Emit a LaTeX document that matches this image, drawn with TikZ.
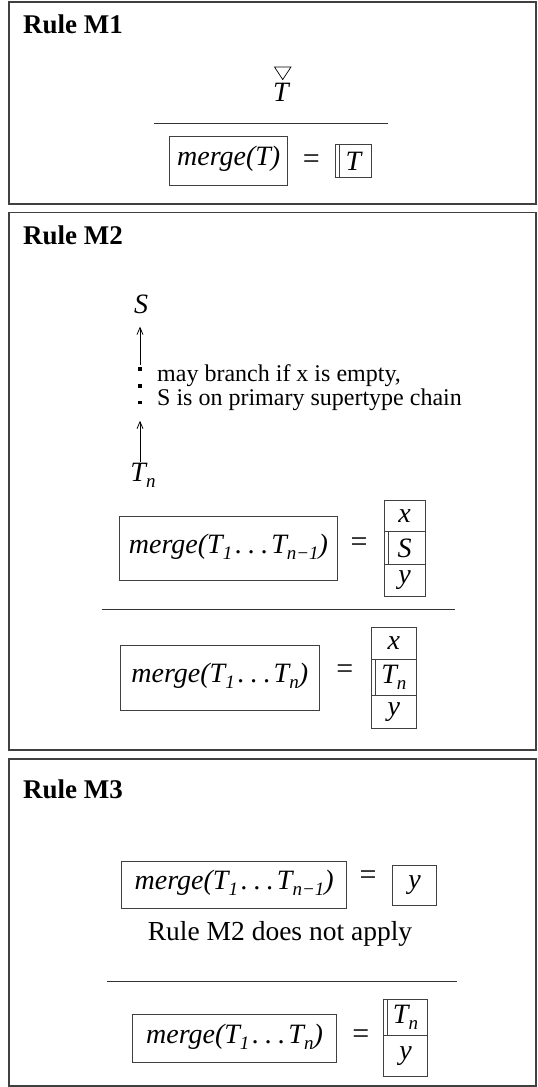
\documentclass[tikz,border=0pt]{standalone}
\usepackage{fontspec}
\setmainfont{Liberation Serif}
\usetikzlibrary{calc, positioning, arrows.meta}

\newcommand{\mtxt}{\fontsize{28}{30}\selectfont\itshape}
\newcommand{\lowsub}[1]{\raisebox{-6pt}{\fontsize{19}{19}\selectfont #1}}
\newcommand{\spdots}{\hspace{3pt}.\hspace{6pt}.\hspace{6pt}.\hspace{3pt}}

\tikzset{
 panel/.style={draw=black!75, line width=1.3pt},
 title/.style={font=\fontsize{27}{30}\selectfont\bfseries, inner sep=0, anchor=base west},
 mtext/.style={font=\mtxt, inner sep=0},
 mergebox/.style={draw=black!75, line width=0.9pt, font=\mtxt, inner sep=0, outer sep=0, text depth=10pt},
 cellbox/.style={draw=black!75, line width=0.9pt, font=\mtxt, inner sep=0, outer sep=0},
 innerbar/.style={black!75, line width=0.9pt},
 eqsign/.style={font=\fontsize{30}{30}\selectfont, inner sep=0, yshift=-2.5pt},
 fracline/.style={black!80, line width=0.9pt},
 note/.style={font=\fontsize{24}{24}\selectfont, inner sep=0, anchor=base west},
 remark/.style={font=\fontsize{27.5}{30}\selectfont, inner sep=0, anchor=base},
 chain/.style={-{Straight Barb[length=7pt,width=6pt]}, line width=0.8pt},
}

\begin{document}
\begin{tikzpicture}[x=1pt, y=-1pt]
\useasboundingbox (0,0) rectangle (538,1087);
%M1
\draw[panel] (9,2) rectangle (536,204);
\node[title] (r1) at (23,33) {Rule M1};
\node[mtext, anchor=base] (T0) at (281,101) {T};
\draw[line width=0.7pt] ($(T0.north)+(-6.5,-15.5)$) -- ($(T0.north)+(10,-15.5)$) -- ($(T0.north)+(1.7,-2.9)$) -- cycle;
\draw[fracline] (154.4,123.5) -- (387.8,123.5);
\node[mergebox, minimum width=117.7, minimum height=49.7] (m1) at (228.7,160.9) {merge(T)};
\node[eqsign] (e1) at (311.3,159.6) {=};
\node[cellbox, minimum width=36, minimum height=32.6] (t1) at (353.3,161.1) {T};
\draw[innerbar] ([xshift=4.4pt]t1.north west) -- ([xshift=4.4pt]t1.south west);

%M2
\draw[panel] (9,212.5) rectangle (536,750);
\node[title] (r2) at (23,244) {Rule M2};
\node[mtext] (S) at (141,304) {S};
\node[mtext, anchor=base] (Tn) at (143,481) {T\lowsub{n}};
\coordinate (dtop) at (140,365);
\coordinate (dlow) at (140,420.7);
\foreach \y in {369,386,402.7} \fill (140,\y) +(-1.6,-1.6) rectangle +(1.6,1.6);
\draw[chain, shorten >=13pt] (dtop) -- (dtop |- S.south);
\draw[chain] (dlow |- Tn.north) -- (dlow);
\node[note] (why1) at (157,381) {may branch if x is empty,};
\node[note] (why2) at (157,405) {S is on primary supertype chain};

\node[mergebox, minimum width=218.4, minimum height=64] (m2a) at (228.5,548.7) {merge(T\lowsub{1}\spdots T\lowsub{n−1})};
\node[eqsign] (e2a) at (359.2,542.3) {=};
\node[cellbox, minimum width=40.7, minimum height=31.7] (x2a) at (404.7,515.9) {x};
\node[cellbox, minimum width=40.7, minimum height=32.6, below=0pt of x2a] (s2a) {S};
\node[cellbox, minimum width=40.7, minimum height=31.7, below=0pt of s2a] (y2a) {y};
\draw[innerbar] ([xshift=4pt]s2a.north west) -- ([xshift=4pt]s2a.south west);
\draw[fracline] (101.7,609.3) -- (455,609.3);
\node[mergebox, minimum width=198.3, minimum height=65] (m2b) at (219.8,677.5) {merge(T\lowsub{1}\spdots T\lowsub{n})};
\node[eqsign] (e2b) at (344.8,669.3) {=};
\node[cellbox, minimum width=44.3, minimum height=32] (x2b) at (393.9,643.3) {x};
\node[cellbox, minimum width=44.3, minimum height=35.7, below=0pt of x2b] (t2b) {T\lowsub{n}};
\node[cellbox, minimum width=44.3, minimum height=33.8, below=0pt of t2b] (y2b) {y};
\draw[innerbar] ([xshift=4pt]t2b.north west) -- ([xshift=4pt]t2b.south west);

%M3
\draw[panel] (9,759) rectangle (536,1086);
\node[title] (r3) at (23,798) {Rule M3};
\node[mergebox, minimum width=225, minimum height=46.6] (m3a) at (234.2,885) {merge(T\lowsub{1}\spdots T\lowsub{n−1})};
\node[eqsign] (e3a) at (368,875) {=};
\node[cellbox, minimum width=44.4, minimum height=40] (y3a) at (414.5,885) {y};
\node[remark] (nota) at (280,940) {Rule M2 does not apply};
\draw[fracline] (106.7,981) -- (456.7,981);
\node[mergebox, minimum width=204.4, minimum height=48] (m3b) at (234.5,1038.3) {merge(T\lowsub{1}\spdots T\lowsub{n})};
\node[eqsign] (e3b) at (360.8,1034) {=};
\node[cellbox, minimum width=44.4, minimum height=36.4] (t3b) at (405.5,1017.5) {T\lowsub{n}};
\node[cellbox, minimum width=44.4, minimum height=40.3, below=0pt of t3b] (y3b) {y};
\draw[innerbar] ([xshift=4pt]t3b.north west) -- ([xshift=4pt]t3b.south west);
\end{tikzpicture}
\end{document}
